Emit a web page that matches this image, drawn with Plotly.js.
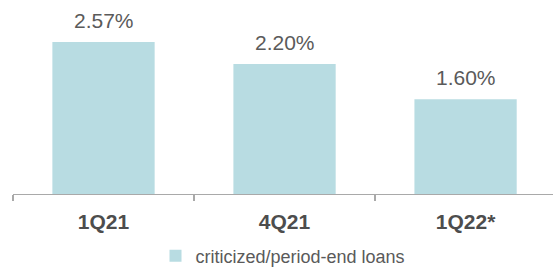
<!DOCTYPE html>
<html>
<head>
<meta charset="utf-8">
<script src="https://cdn.plot.ly/plotly-3.0.1.min.js"></script>
<style>
  html, body { margin: 0; padding: 0; background: #ffffff; }
  #chart { width: 553px; height: 271px; }
</style>
</head>
<body>
<div id="chart"></div>
<script>
const categories = ["1Q21", "4Q21", "1Q22*"];
const values = [2.57, 2.20, 1.60];
const seriesName = "criticized/period-end loans";

const annotations = categories.map((c, i) => ({
  x: c,
  y: values[i],
  xref: "x",
  yref: "y",
  text: values[i].toFixed(2) + "%",
  showarrow: false,
  yanchor: "bottom",
  yshift: 8,
  font: { family: "Liberation Sans, Arial, sans-serif", size: 21, color: "#5a5a5a" }
}));

const trace = {
  type: "bar",
  x: categories,
  y: values,
  name: seriesName,
  width: 0.565,
  marker: { color: "#b8dce2" },
  showlegend: true,
  hoverinfo: "skip"
};

const layout = {
  width: 553,
  height: 271,
  margin: { l: 13, r: 0, t: 0, b: 77 },
  paper_bgcolor: "#ffffff",
  plot_bgcolor: "#ffffff",
  font: { family: "Liberation Sans, Arial, sans-serif", color: "#595959" },
  showlegend: true,
  legend: {
    orientation: "h",
    x: 0.5,
    xanchor: "center",
    yref: "container",
    y: 0.055,
    yanchor: "middle",
    font: { size: 18, color: "#5a5a5a" },
    bgcolor: "rgba(0,0,0,0)"
  },
  xaxis: {
    type: "category",
    range: [-0.5, 2.483],
    showline: true,
    linecolor: "#a9a9a9",
    linewidth: 1.2,
    ticks: "outside",
    tickson: "boundaries",
    ticklen: 6,
    tickcolor: "#a9a9a9",
    tickwidth: 1.2,
    showgrid: false,
    zeroline: false,
    ticklabelstandoff: 9,
    tickfont: { size: 21, color: "#4d4d4d", weight: "bold" }
  },
  yaxis: {
    range: [0, 3.28],
    visible: false,
    showgrid: false,
    zeroline: false
  },
  annotations: annotations
};

Plotly.newPlot("chart", [trace], layout, { staticPlot: true, displayModeBar: false });
</script>
</body>
</html>
